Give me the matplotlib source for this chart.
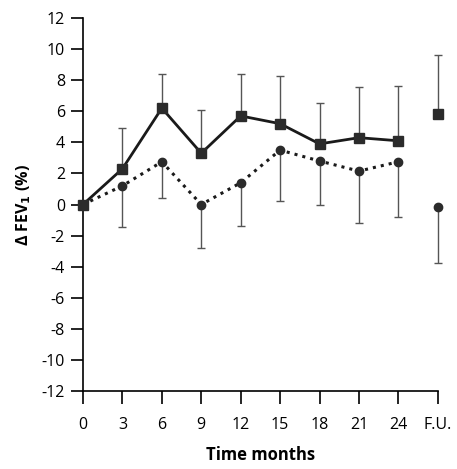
import numpy as np
import matplotlib.pyplot as plt

plt.rcParams['font.family'] = ['Open Sans', 'DejaVu Sans']
plt.rcParams['axes.unicode_minus'] = False

months = ['0', '3', '6', '9', '12', '15', '18', '21', '24', 'F.U.']

# solid line, squares (upper error bars)
sq_mean = [0.0, 2.3, 6.2, 3.3, 5.7, 5.2, 3.9, 4.3, 4.1, 5.85]
sq_upper = [0.0, 4.95, 8.4, 6.1, 8.4, 8.3, 6.5, 7.55, 7.6, 9.65]

# dotted line, circles (lower error bars)
ci_mean = [0.0, 1.2, 2.75, 0.0, 1.4, 3.5, 2.8, 2.15, 2.75, -0.15]
ci_lower = [0.0, -1.45, 0.45, -2.8, -1.4, 0.25, -0.05, -1.2, -0.8, -3.75]

x = np.arange(len(months))
sq_mean = np.array(sq_mean)
ci_mean = np.array(ci_mean)
sq_err = np.array(sq_upper) - sq_mean
ci_err = ci_mean - np.array(ci_lower)

fig = plt.figure(figsize=(4.57, 4.69), dpi=100)
ax = fig.add_axes([0.1816, 0.1663, 0.958 - 0.1816, 0.9616 - 0.1663])

col = '#2b2b2b'
# error bars (one sided), skip month 0
for m, lo, hi in [(sq_mean, np.zeros(9), sq_err[1:]), (ci_mean, ci_err[1:], np.zeros(9))]:
    eb = ax.errorbar(x[1:], m[1:], yerr=[lo, hi], fmt='none',
                     ecolor='#555555', elinewidth=1, capsize=3, capthick=1, zorder=1)
    for art in eb.lines[1] + eb.lines[2]:
        art.set_clip_on(False)

ax.plot(x[:9], sq_mean[:9], '-', color='#1a1a1a', lw=2, zorder=2)
ax.plot(x[:9], ci_mean[:9], ':', color='#1a1a1a', lw=2.2, zorder=2)
ax.plot(x, sq_mean, 's', color=col, ms=6.5, zorder=3, ls='none', clip_on=False)
ax.plot(x, ci_mean, 'o', color=col, ms=6, zorder=3, ls='none', clip_on=False)

ax.set_xlim(0, 9)
ax.set_ylim(-12, 12)
ax.set_xticks(x)
ax.set_xticklabels(months)
ax.set_yticks(np.arange(-12, 13, 2))
ax.spines['top'].set_visible(False)
ax.spines['right'].set_visible(False)
ax.spines['left'].set_linewidth(1.2)
ax.spines['bottom'].set_linewidth(1.2)
ax.tick_params(direction='out', length=9, width=1.2, labelsize=11.5, pad=4)
ax.tick_params(axis='x', pad=10)

ax.set_xlabel('Time months', fontsize=12, fontweight='bold', labelpad=9)
ax.set_ylabel(r'Δ FEV$_\mathbf{1}$ (%)', fontsize=11.5, fontweight='bold', labelpad=6)

fig.savefig('out.png', dpi=100)
